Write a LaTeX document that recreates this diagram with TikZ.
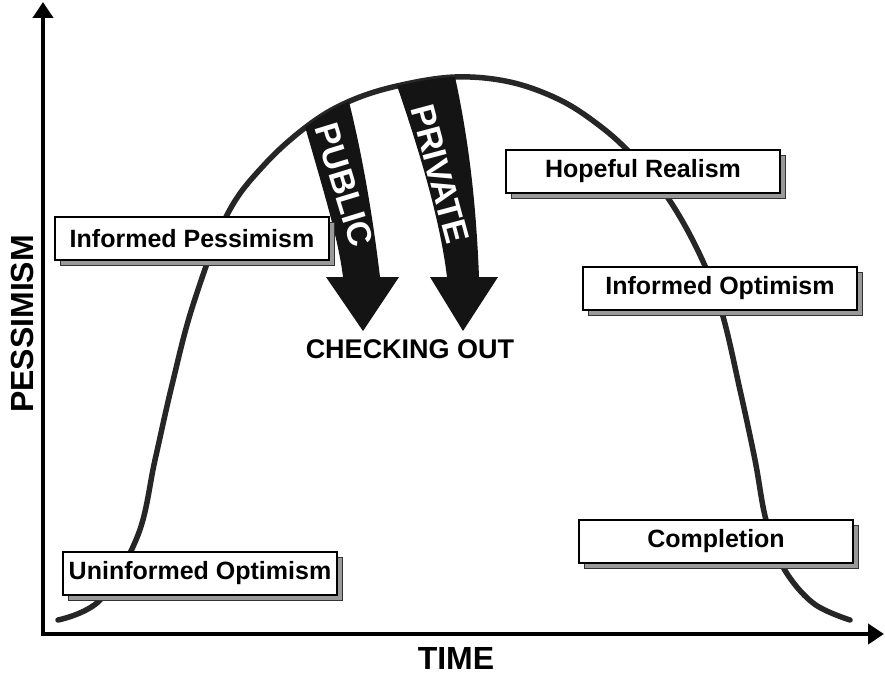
\documentclass[tikz,border=0pt]{standalone}
\usepackage{fontspec}
\setmainfont{Liberation Sans}
\usetikzlibrary{arrows.meta,shadows}

\tikzset{
  stagebox/.style={draw=black, line width=1.5pt, fill=white,
    minimum width=274pt, minimum height=43pt, inner sep=0pt,
    font=\fontsize{25}{28}\selectfont\bfseries,
    drop shadow={shadow xshift=5pt, shadow yshift=-5pt, fill=gray!80,
      draw=black!80, line width=1pt, opacity=1}},
  axislabel/.style={font=\fontsize{32}{34}\selectfont\bfseries},
  waylabel/.style={text=white, inner sep=0pt, font=\fontsize{34}{36}\selectfont\bfseries},
  hump/.style={draw=black!85, line width=5.5pt, line cap=round},
  axisline/.style={line width=4pt, line join=miter,
    {Triangle[length=16pt,width=20pt]}-{Triangle[length=16pt,width=20pt]}},
}

% the emotional cycle curve
\newcommand\humpcurve{plot[smooth,tension=0.6] coordinates {
  (58,620) (100,600) (138,535) (155,460) (172,385) (193,305) (227,215)
  (265,164) (310,124) (350,101) (397,86) (455,77) (510,82) (560,100)
  (600,126) (632,155) (668,198) (700,255) (722,313) (740,390) (755,460)
  (766,520) (783,567) (813,603) (850,620)}}

\begin{document}
\begin{tikzpicture}[x=1pt, y=-1pt]
    \useasboundingbox (0,0) rectangle (885,674);

    % axes
    \coordinate (ytip) at (43,2);
    \coordinate (origin) at (43,634);
    \coordinate (xtip) at (884,634);
    \draw[axisline] (ytip) -- (origin) -- (xtip);
    \node[axislabel, rotate=90] (pess) at (22,324) {PESSIMISM};
    \node[axislabel] (time) at (456,658) {TIME};

    % the curve
    \draw[hump] \humpcurve;

    % the two ways out, clipped to the inside of the curve
    \begin{scope}
        \clip \humpcurve -- cycle;
        \fill[black!92] (296,95) .. controls (320,180) and (338,235) .. (343,277)
            -- (326,277) -- (363,331) -- (399,277) -- (380,277)
            .. controls (372,210) and (360,140) .. (342,75) -- cycle;
        \fill[black!92] (388,60) .. controls (420,150) and (440,220) .. (447,277)
            -- (430,277) -- (463,331) -- (498,277) -- (479,277)
            .. controls (476,200) and (468,130) .. (450,55) -- cycle;
    \end{scope}
    \node[waylabel, rotate=-73] (public) at (344,185) {PUBLIC};
    \node[waylabel, rotate=-75] (private) at (440,174) {PRIVATE};
    \node[font=\fontsize{27}{30}\selectfont\bfseries] (checkout) at (410,349) {CHECKING OUT};

    % the stages
    \node[stagebox] (infpess) at (192,238.5) {Informed Pessimism};
    \node[stagebox] (uninfopt) at (200,573.5) {Uninformed Optimism};
    \node[stagebox] (hopeful) at (643,171.5) {Hopeful Realism};
    \node[stagebox] (infopt) at (720,288.5) {Informed Optimism};
    \node[stagebox] (complete) at (716,541.5) {Completion};

\end{tikzpicture}
\end{document}
